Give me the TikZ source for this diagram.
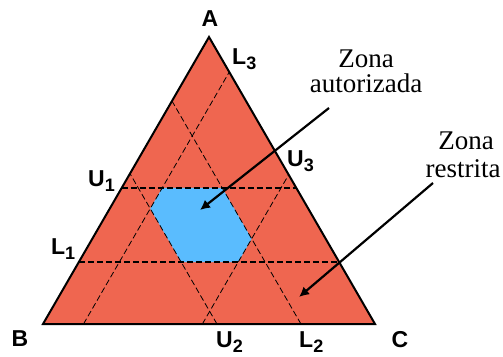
\documentclass[tikz,border=0pt]{standalone}
\usepackage{fontspec}
\setmainfont{Liberation Serif}
\newfontfamily\lblfont{Liberation Sans}
\usetikzlibrary{arrows.meta}
\definecolor{salmon}{HTML}{EF6650}
\definecolor{zoneblue}{HTML}{5ABCFE}
\newcommand{\vtx}[2]{#1\raisebox{-5pt}{\fontsize{18}{18}\selectfont #2}}
\tikzset{
  vlabel/.style={inner sep=0pt, font=\lblfont\bfseries\fontsize{23}{26}\selectfont},
  zonetext/.style={inner sep=0pt, anchor=base, font=\fontsize{27}{30}\selectfont},
  hline/.style={dash pattern=on 6pt off 3pt, line width=1.2pt},
  dline/.style={dash pattern=on 6pt off 3pt, line width=0.8pt},
  pointer/.style={line width=2.2pt, -{Latex[length=10pt,width=10pt]}},
}
\begin{document}
\begin{tikzpicture}[x=1pt,y=1pt]
\useasboundingbox (0,0) rectangle (503,356);
\coordinate (A) at (209,319);
\coordinate (B) at (43,32);
\coordinate (C) at (375,32);
% triangle fill
\fill[salmon] (A) -- (B) -- (C) -- cycle;
% authorised hexagon
\fill[zoneblue]
  (barycentric cs:A=0.474,B=0.404,C=0.122) --
  (barycentric cs:A=0.402,B=0.476,C=0.122) --
  (barycentric cs:A=0.216,B=0.476,C=0.308) --
  (barycentric cs:A=0.216,B=0.304,C=0.48) --
  (barycentric cs:A=0.297,B=0.223,C=0.48) --
  (barycentric cs:A=0.474,B=0.223,C=0.303) -- cycle;
% limit lines
\coordinate (l1a) at (barycentric cs:A=0.216,B=0.784);
\coordinate (l1b) at (barycentric cs:A=0.216,C=0.784);
\coordinate (u1a) at (barycentric cs:A=0.474,B=0.526);
\coordinate (u1b) at (barycentric cs:A=0.474,C=0.526);
\coordinate (l2a) at (barycentric cs:B=0.223,C=0.777);
\coordinate (l2b) at (barycentric cs:B=0.223,A=0.777);
\coordinate (u2a) at (barycentric cs:B=0.476,C=0.524);
\coordinate (u2b) at (barycentric cs:B=0.476,A=0.524);
\coordinate (l3a) at (barycentric cs:C=0.122,B=0.878);
\coordinate (l3b) at (barycentric cs:C=0.122,A=0.878);
\coordinate (u3a) at (barycentric cs:C=0.48,B=0.52);
\coordinate (u3b) at (barycentric cs:C=0.48,A=0.52);
\draw[hline] (l1a) -- (l1b);
\draw[hline] (u1a) -- (u1b);
\draw[dline] (l2a) -- (l2b);
\draw[dline] (u2a) -- (u2b);
\draw[dline] (l3a) -- (l3b);
\draw[dline] (u3a) -- (u3b);
% outline
\draw[line width=2pt, line join=miter] (A) -- (B) -- (C) -- cycle;
% vertex and limit labels
\node[vlabel] (lA) at (210,337) {A};
\node[vlabel] (lB) at (20,17.5) {B};
\node[vlabel, anchor=base] (lC) at (400,8.5) {C};
\node[vlabel, anchor=base west] (lL3) at (232,291) {\vtx{L}{3}};
\node[vlabel, anchor=base west] (lU3) at (287,189) {\vtx{U}{3}};
\node[vlabel, anchor=base west] (lU1) at (88,169) {\vtx{U}{1}};
\node[vlabel, anchor=base west] (lL1) at (51,101) {\vtx{L}{1}};
\node[vlabel, anchor=base west] (lU2) at (216,8.5) {\vtx{U}{2}};
\node[vlabel, anchor=base west] (lL2) at (299,8.5) {\vtx{L}{2}};
% zone captions
\node[zonetext] (za1) at (366,288) {Zona};
\node[zonetext] (za2) at (366,263) {autorizada};
\node[zonetext] (zr1) at (466,206) {Zona};
\node[zonetext] (zr2) at (463,178) {restrita};
% pointers
\coordinate (pa0) at (329,248);
\coordinate (pa1) at (200,146);
\coordinate (pr0) at (433,173);
\coordinate (pr1) at (299,59);
\draw[pointer] (pa0) -- (pa1);
\draw[pointer] (pr0) -- (pr1);
\end{tikzpicture}
\end{document}
